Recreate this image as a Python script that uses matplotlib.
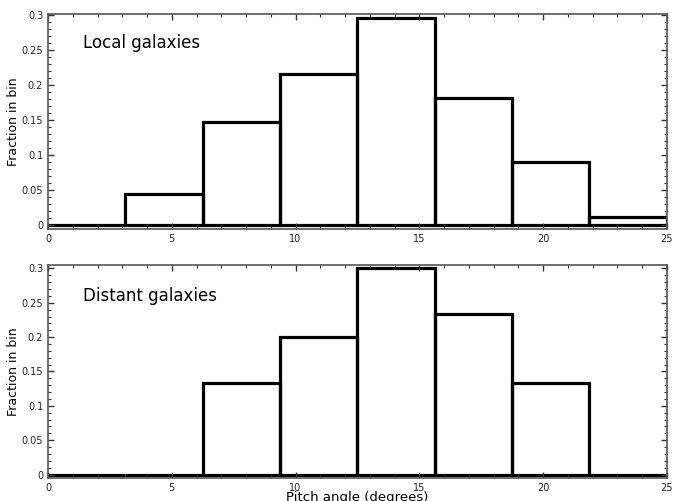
import matplotlib
matplotlib.use("Agg")
import matplotlib.pyplot as plt
from matplotlib.ticker import MultipleLocator
import numpy as np

edges = np.linspace(0, 25, 9)
local_frac = [0.0, 4/88, 13/88, 19/88, 26/88, 16/88, 8/88, 1/88]
distant_frac = [0.0, 0.0, 4/30, 6/30, 9/30, 7/30, 4/30, 0.0]
labels = ["Local galaxies", "Distant galaxies"]

fig = plt.figure(figsize=(6.79, 5.01), dpi=100)
ax1 = fig.add_axes([0.0707, 0.543, 0.9113, 0.429])
ax2 = fig.add_axes([0.0707, 0.046, 0.9113, 0.425])

width = edges[1] - edges[0]
for ax, vals, lab, ytop in [(ax1, local_frac, labels[0], 0.301), (ax2, distant_frac, labels[1], 0.305)]:
    ax.bar(edges[:-1], vals, width=width, align='edge', fill=False,
           edgecolor='black', linewidth=2.3)
    ax.set_xlim(0, 25)
    ax.set_ylim(-0.005, ytop)
    ax.xaxis.set_major_locator(MultipleLocator(5))
    ax.xaxis.set_minor_locator(MultipleLocator(1))
    ax.yaxis.set_major_locator(MultipleLocator(0.05))
    ax.yaxis.set_minor_locator(MultipleLocator(0.01))
    ax.tick_params(which='both', direction='in', top=True, right=True, labelsize=7, colors='#333333', labelcolor='#222222')
    ax.tick_params(which='major', length=4, width=1)
    ax.tick_params(which='minor', length=2, width=0.8)
    for s in ax.spines.values():
        s.set_color('#555555')
        s.set_linewidth(1.2)
    ax.set_yticks([0, 0.05, 0.1, 0.15, 0.2, 0.25, 0.3])
    ax.set_yticklabels(['0', '0.05', '0.1', '0.15', '0.2', '0.25', '0.3'])
    ax.set_xticks([0, 5, 10, 15, 20, 25])
    ax.set_xticklabels(['0', '5', '10', '15', '20', '25'])
    ax.set_ylabel("Fraction in bin", fontsize=9, labelpad=1)
    ax.text(1.4, 0.26, lab, fontsize=12, va='center', ha='left')

ax2.set_xlabel("Pitch angle (degrees)", fontsize=9.5, labelpad=-1.5)
fig.savefig("out.png", dpi=100)
